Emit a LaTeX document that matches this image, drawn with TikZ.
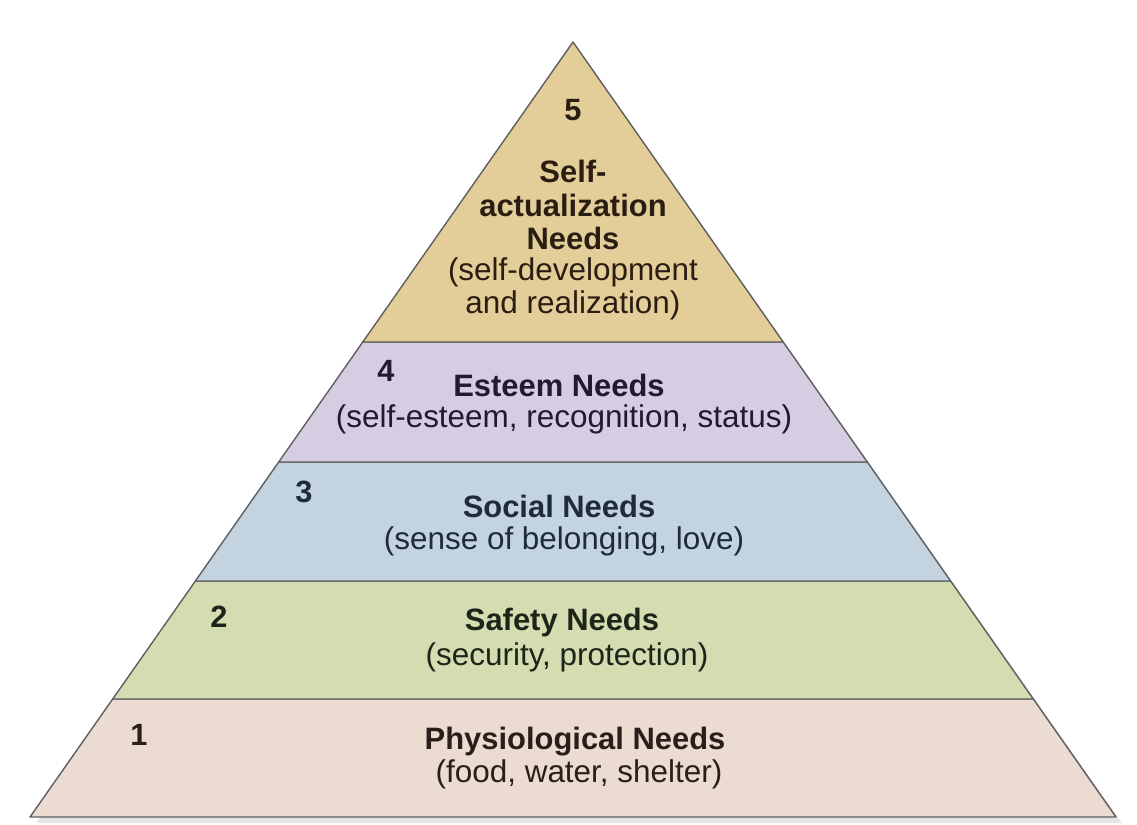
\documentclass[tikz,border=0pt]{standalone}
\usepackage{fontspec}
\setmainfont{Liberation Sans}
\definecolor{lvlfive}{HTML}{E3CD98}
\definecolor{lvlfour}{HTML}{D7CDE3}
\definecolor{lvlthree}{HTML}{C3D4E0}
\definecolor{lvltwo}{HTML}{D4DCB2}
\definecolor{lvlone}{HTML}{EBDBD1}
\definecolor{edgegray}{HTML}{5F5F5F}
\definecolor{inkfive}{HTML}{2A1E12}
\definecolor{inkfour}{HTML}{221A30}
\definecolor{inkthree}{HTML}{1E2B38}
\definecolor{inktwo}{HTML}{1F2418}
\definecolor{inkone}{HTML}{2A1E1A}

\begin{document}
\begin{tikzpicture}[x=0.02cm,y=-0.02cm,
    layer/.style={draw=edgegray,line width=0.8pt,line join=round},
    title/.style={font=\fontsize{17.6}{19.3}\selectfont\bfseries,align=center},
    sub/.style={font=\fontsize{17.9}{19}\selectfont,align=center},
    num/.style={font=\fontsize{17.5}{18}\selectfont\bfseries}]

            %\draw [help lines] (0,0) grid (1137,825);
            \useasboundingbox (0,0) rectangle (1137,825);

            % soft shadow
            \fill[black!10] (577,47) -- (1122,823) -- (36,823) -- cycle;

            % the five levels
            \filldraw[layer,fill=lvlone]   (112.7,699) -- (1033.3,699) -- (1116,817) -- (30,817) -- cycle;
            \filldraw[layer,fill=lvltwo]   (195.4,581) -- (950.6,581) -- (1033.3,699) -- (112.7,699) -- cycle;
            \filldraw[layer,fill=lvlthree] (278.7,462) -- (867.3,462) -- (950.6,581) -- (195.4,581) -- cycle;
            \filldraw[layer,fill=lvlfour]  (362.8,342) -- (783.2,342) -- (867.3,462) -- (278.7,462) -- cycle;
            \filldraw[layer,fill=lvlfive]  (573,42) -- (783.2,342) -- (362.8,342) -- cycle;

            \path   (573,110) node (n5) [num,text=inkfive] {5}
                    (386,371) node (n4) [num,text=inkfour] {4}
                    (304,492) node (n3) [num,text=inkthree] {3}
                    (219,617) node (n2) [num,text=inktwo] {2}
                    (139,735) node (n1) [num,text=inkone] {1};

            \path   (573,205) node (selft) [title,text=inkfive] {Self-\\actualization\\Needs}
                    (573,289) node (selfs) [sub,text=inkfive] {(self-development\\and realization)}
                    (559,385) node (estt) [title,text=inkfour] {Esteem Needs}
                    (564,419) node (ests) [sub,text=inkfour] {(self-esteem, recognition, status)}
                    (559,506) node (soct) [title,text=inkthree] {Social Needs}
                    (564,541) node (socs) [sub,text=inkthree] {(sense of belonging, love)}
                    (562,622) node (saft) [title,text=inktwo] {Safety Needs}
                    (567,657) node (safs) [sub,text=inktwo] {(security, protection)}
                    (575,742) node (phyt) [title,text=inkone] {Physiological Needs}
                    (579,774) node (phys) [sub,text=inkone] {(food, water, shelter)};
        \end{tikzpicture}
\end{document}
